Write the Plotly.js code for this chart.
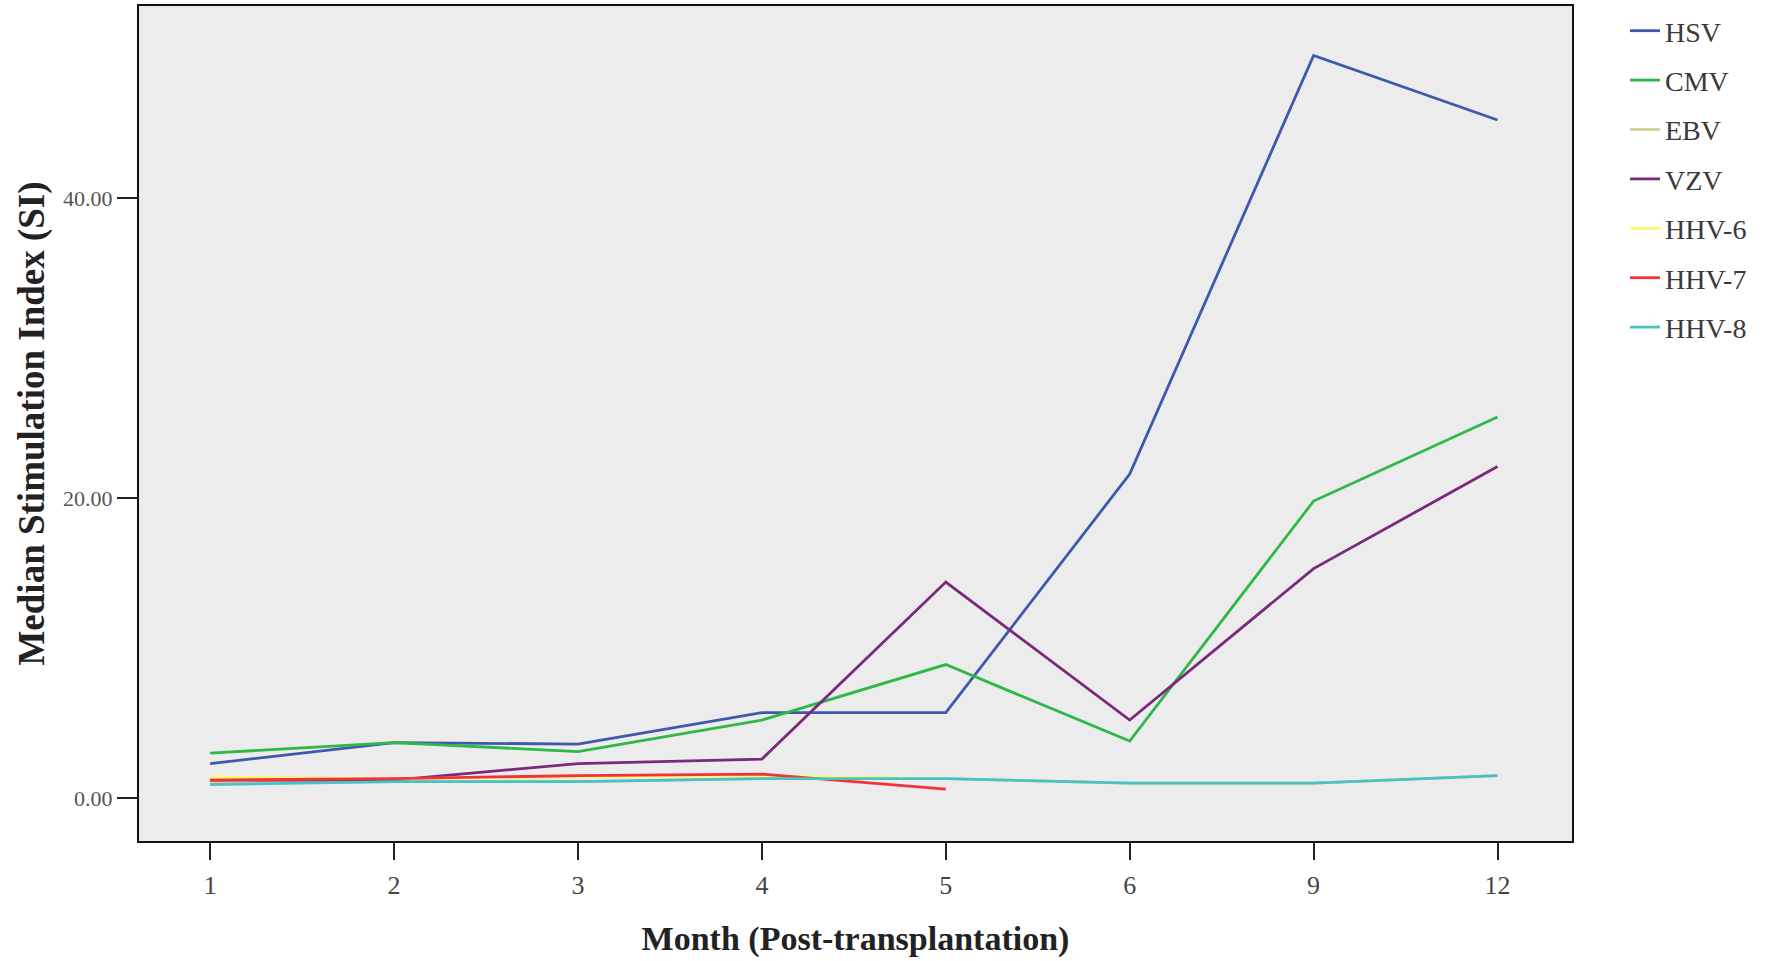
<!DOCTYPE html>
<html>
<head>
<meta charset="utf-8">
<script src="https://cdn.plot.ly/plotly-3.0.1.min.js"></script>
<style>
html,body{margin:0;padding:0;background:#fff;}
#chart{width:1769px;height:961px;}
</style>
</head>
<body>
<div id="chart"></div>
<script>
// Categories (months post-transplantation)
var months = ["1", "2", "3", "4", "5", "6", "9", "12"];

// Median stimulation index per virus
var HSV  = [2.3, 3.7, 3.6, 5.7, 5.7, 21.6, 49.5, 45.2];
var CMV  = [3.0, 3.7, 3.1, 5.2, 8.9, 3.8, 19.8, 25.4];
var EBV  = [1.0, 1.1, 1.1, 1.3, 1.3, 1.0, 1.0, 1.5];
var VZV  = [1.2, 1.2, 2.3, 2.6, 14.4, 5.2, 15.3, 22.1];
var HHV6 = [1.4, 1.3, 1.4, 1.5, 1.3, null, null, null];
var HHV7 = [1.2, 1.3, 1.5, 1.6, 0.6, null, null, null];
var HHV8 = [0.9, 1.1, 1.1, 1.3, 1.3, 1.0, 1.0, 1.5];

var seriesNames = ["HSV", "CMV", "EBV", "VZV", "HHV-6", "HHV-7", "HHV-8"];
var seriesData  = [HSV, CMV, EBV, VZV, HHV6, HHV7, HHV8];
var seriesColors = ["#3e58ac", "#2eb848", "#d3ce97", "#7c287d", "#fbf873", "#ef3338", "#48c2c5"];

var yTickVals = [0, 20, 40];
var yTickText = ["0.00", "20.00", "40.00"];

var traces = seriesNames.map(function (name, i) {
  return {
    type: "scatter",
    mode: "lines",
    name: name,
    x: months,
    y: seriesData[i],
    line: {color: seriesColors[i], width: 2.8},
    legendgroup: "g" + i,
    connectgaps: false
  };
});

var serif = "Liberation Serif, Times New Roman, serif";

var layout = {
  width: 1769,
  height: 961,
  paper_bgcolor: "#ffffff",
  plot_bgcolor: "#ececec",
  margin: {l: 139, r: 197, t: 6, b: 120, pad: 0},
  showlegend: true,
  legend: {
    x: 1.037, xanchor: "left",
    y: 1.0, yanchor: "top",
    font: {family: serif, size: 28, color: "#3a3a3a"},
    bgcolor: "rgba(0,0,0,0)",
    borderwidth: 0,
    tracegroupgap: 10
  },
  xaxis: {
    type: "category",
    range: [-0.387, 7.405],
    showline: true, linecolor: "#111111", linewidth: 2, mirror: true,
    ticks: "outside", ticklen: 17, tickwidth: 2, tickcolor: "#222222",
    ticklabelstandoff: 3,
    showgrid: false, zeroline: false,
    tickfont: {family: serif, size: 26, color: "#444444"},
    title: {text: "<b>Month (Post-transplantation)</b>", font: {family: serif, size: 34, color: "#222222"}, standoff: 27}
  },
  yaxis: {
    range: [-2.86, 52.8],
    tickvals: yTickVals,
    ticktext: yTickText,
    showline: true, linecolor: "#111111", linewidth: 2, mirror: true,
    ticks: "outside", ticklen: 20, tickwidth: 2, tickcolor: "#222222",
    showgrid: false, zeroline: false,
    tickfont: {family: serif, size: 22, color: "#555555"},
    title: {text: "<b>Median Stimulation Index (SI)</b>", font: {family: serif, size: 37, color: "#222222"}, standoff: 7}
  }
};

Plotly.newPlot("chart", traces, layout, {displayModeBar: false, staticPlot: true});
</script>
</body>
</html>
